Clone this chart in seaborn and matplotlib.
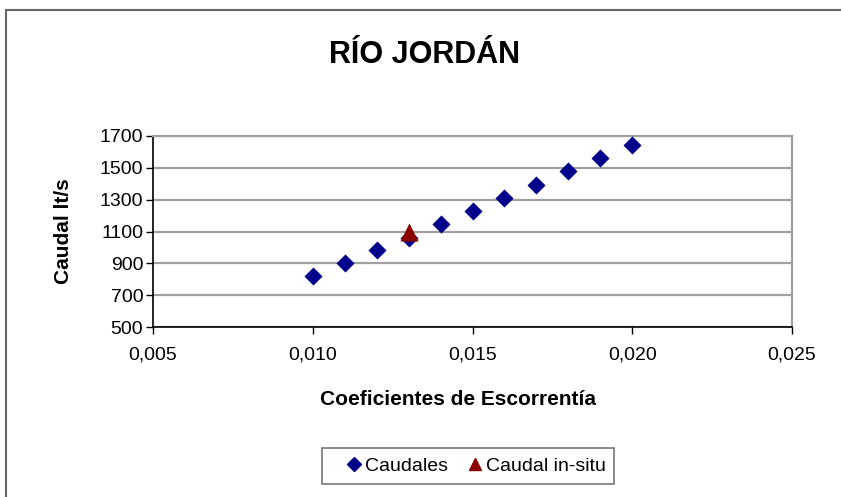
import matplotlib
matplotlib.use("Agg")
import matplotlib.pyplot as plt
import seaborn as sns
import pandas as pd
from matplotlib.lines import Line2D
from matplotlib.ticker import FuncFormatter

coef = [0.010, 0.011, 0.012, 0.013, 0.014, 0.015, 0.016, 0.017, 0.018, 0.019, 0.020]
caudales = [820, 900, 983, 1060, 1146, 1230, 1311, 1395, 1479, 1562, 1644]
insitu_coef = [0.013]
insitu_caudal = [1100]
xticks = [0.005, 0.010, 0.015, 0.020, 0.025]
yticks = [500, 700, 900, 1100, 1300, 1500, 1700]

sns.set_theme(style="white")
plt.rcParams['font.family'] = ['Liberation Sans', 'DejaVu Sans']
plt.rcParams['text.color'] = 'black'
plt.rcParams['axes.labelcolor'] = 'black'

fig = plt.figure(figsize=(8.41, 4.97), dpi=100)
ax = fig.add_axes([153/841, 1 - 327/497, (792-153)/841, (327-136)/497])

df1 = pd.DataFrame({"x": coef, "y": caudales})
df2 = pd.DataFrame({"x": insitu_coef, "y": insitu_caudal})
sns.scatterplot(data=df1, x="x", y="y", marker="D", s=85, color="#00008B",
                edgecolor="#00008B", linewidth=0, ax=ax, zorder=3)
sns.scatterplot(data=df2, x="x", y="y", marker="^", s=170, color="#8B0000",
                edgecolor="#8B0000", linewidth=0, ax=ax, zorder=4)

ax.set_xlim(0.005, 0.025)
ax.set_ylim(500, 1700)
ax.set_xticks(xticks)
ax.set_yticks(yticks)
ax.xaxis.set_major_formatter(FuncFormatter(lambda v, p: f"{v:.3f}".replace(".", ",")))
ax.yaxis.set_major_formatter(FuncFormatter(lambda v, p: f"{int(round(v))}"))
ax.grid(axis="y", color="#a0a0a0", linewidth=1.6)
ax.set_axisbelow(True)
for s in ["left", "bottom"]:
    ax.spines[s].set_color("black")
    ax.spines[s].set_linewidth(1.2)
for s in ["right", "top"]:
    ax.spines[s].set_color("#a0a0a0")
    ax.spines[s].set_linewidth(1.6)
ax.tick_params(axis="both", direction="out", length=5, width=1, color="black",
               labelsize=14, labelcolor="black", left=True, bottom=True)
ax.tick_params(axis="y", pad=2)
ax.tick_params(axis="x", pad=9)
ax.set_xlabel("Coeficientes de Escorrentía", fontsize=15, fontweight="bold", labelpad=19)
ax.xaxis.label.set_x(0.477)
ax.set_ylabel("Caudal lt/s", fontsize=15, fontweight="bold", labelpad=19)

fig.text(425/841, 1 - 55/497, "RÍO JORDÁN", ha="center", va="center",
         fontsize=22, fontweight="bold", color="black")

handles = [Line2D([0], [0], marker="D", color="none", markerfacecolor="#00008B",
                  markeredgecolor="#00008B", markersize=7.5, label="Caudales"),
           Line2D([0], [0], marker="^", color="none", markerfacecolor="#8B0000",
                  markeredgecolor="#8B0000", markersize=9, label="Caudal in-situ")]
leg = fig.legend(handles=handles, loc="center", bbox_to_anchor=(468/841, 1 - 466/497),
                 ncol=2, frameon=True, fontsize=14, handletextpad=-0.64,
                 columnspacing=0.2, fancybox=False, borderpad=0.45, handlelength=2.4)
leg.get_frame().set_edgecolor("#555555")
leg.get_frame().set_linewidth(1.2)
for t in leg.get_texts():
    t.set_color("black")

# outer chart border (top and left)
fig.add_artist(Line2D([6/841, 1], [1 - 10/497, 1 - 10/497], transform=fig.transFigure,
                      color="#666666", linewidth=1.5))
fig.add_artist(Line2D([6/841, 6/841], [0, 1 - 10/497], transform=fig.transFigure,
                      color="#666666", linewidth=1.5))

fig.savefig("out.png", dpi=100)
